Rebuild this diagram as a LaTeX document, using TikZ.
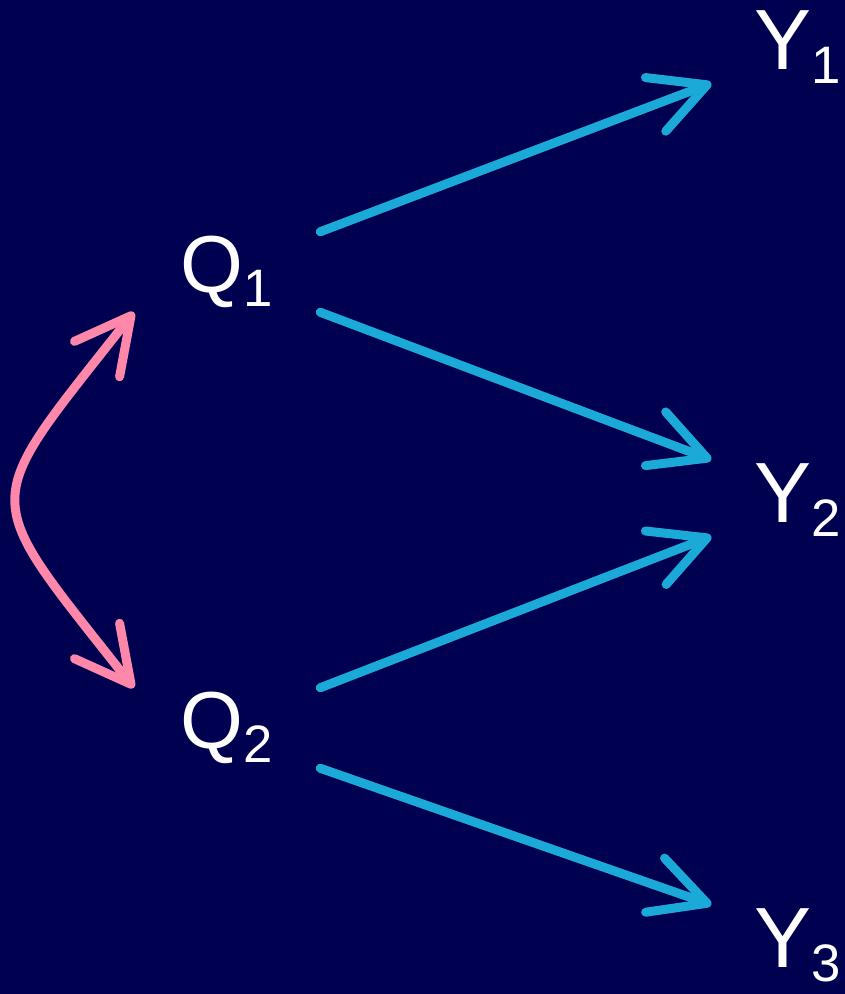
\documentclass[tikz,border=0pt]{standalone}
\usepackage{fontspec}
\setmainfont{Liberation Sans}
\usetikzlibrary{arrows.meta}

\definecolor{navy}{RGB}{0,0,80}
\definecolor{effectblue}{RGB}{27,170,215}
\definecolor{corrpink}{RGB}{255,136,170}
\newcommand{\lowidx}[1]{\raisebox{-0.42cm}{\fontsize{45}{45}\selectfont #1}}

\begin{document}
\begin{tikzpicture}[
    x=0.03cm, y=-0.03cm,
    qnode/.style={inner sep=0, minimum width=5.58cm, text height=1.8cm, text depth=0.6cm, text=white, font=\fontsize{69}{72}\selectfont},
    ynode/.style={inner sep=0, minimum width=5.19cm, text height=1.86cm, text depth=0.42cm, text=white, font=\fontsize{73}{76}\selectfont},
    effect/.style={-{Straight Barb[length=1.65cm, width=1.72cm, round]}, line width=0.27cm, line cap=round, draw=effectblue},
    corr/.style={{Straight Barb[length=1.65cm, width=1.72cm, round]}-{Straight Barb[length=1.65cm, width=1.72cm, round]}, line width=0.27cm, line cap=round, draw=corrpink}
]
\useasboundingbox (0,0) rectangle (845,994);
\fill[navy] (0,0) rectangle (845,994);

\node (q1) [qnode] at (227,272) {Q\lowidx{1}};
\node (q2) [qnode] at (227,728) {Q\lowidx{2}};
\node (y1) [ynode] at (798,45) {Y\lowidx{1}};
\node (y2) [ynode] at (798,498) {Y\lowidx{2}};
\node (y3) [ynode] at (798,943) {Y\lowidx{3}};

\draw[corr] (q1.south west) .. controls (-23,512) and (-23,488) .. (q2.north west);

\draw[effect] (q1.north east) -- (y1.south west);
\draw[effect] (q1.south east) -- (y2.north west);
\draw[effect] (q2.north east) -- (y2.south west);
\draw[effect] (q2.south east) -- (y3.north west);
\end{tikzpicture}
\end{document}
